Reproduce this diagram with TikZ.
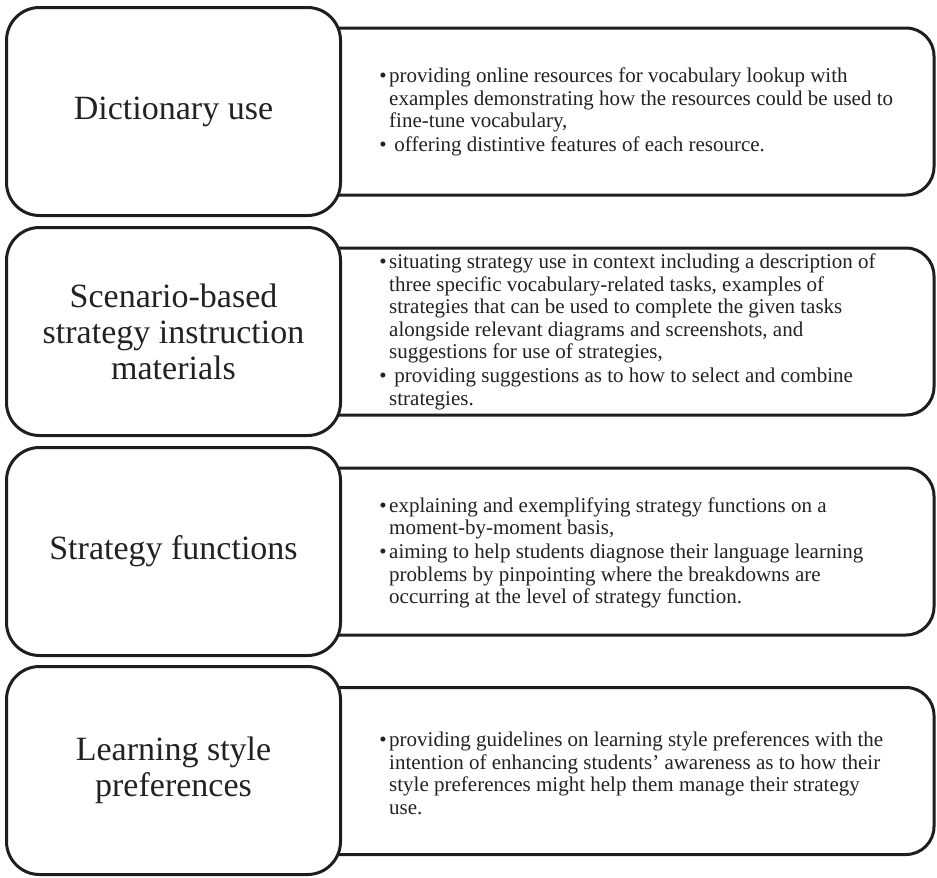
\documentclass[tikz,border=0pt]{standalone}
\usepackage{fontspec}
\setmainfont{Liberation Serif}
\definecolor{ink}{HTML}{1E1E1E}
\definecolor{txt}{HTML}{222222}
\newcommand{\itm}{\leavevmode\llap{\textbullet\hspace{2.5pt}}}
\begin{document}
\begin{tikzpicture}[x=1pt,y=-1pt,
  lbox/.style={draw=ink, line width=3pt, fill=white, rounded corners=33pt,
    minimum width=334pt, minimum height=208pt, inner sep=0pt, text=txt,
    align=center, font=\fontsize{34}{36}\selectfont},
  rbox/.style={draw=ink, line width=3pt, fill=white, rounded corners=28pt,
    minimum width=634pt, minimum height=167pt, inner sep=0pt},
  body/.style={anchor=west, inner sep=0pt, align=left, text=txt,
    font=\fontsize{21}{22.5}\selectfont}]
\useasboundingbox (0,0) rectangle (937,878);

% row 1
\node[rbox] (r1) at (617,111.5) {};
\node[lbox] (l1) at (173.5,111.5) {Dictionary use};
\node[body] (t1) at (389,112) {\itm providing online resources for vocabulary lookup with\\
examples demonstrating how the resources could be used to\\
fine-tune vocabulary,\\[1.5pt]
\itm\ offering distintive features of each resource.};

% row 2
\node[rbox] (r2) at (617,331.5) {};
\node[lbox] (l2) at (173.5,331.5) {Scenario-based\\strategy instruction\\materials};
\node[body] (t2) at (389,332) {\itm situating strategy use in context including a description of\\
three specific vocabulary-related tasks, examples of\\
strategies that can be used to complete the given tasks\\
alongside relevant diagrams and screenshots, and\\
suggestions for use of strategies,\\[1.5pt]
\itm\ providing suggestions as to how to select and combine\\
strategies.};

% row 3
\node[rbox] (r3) at (617,551.5) {};
\node[lbox] (l3) at (173.5,551.5) {Strategy functions};
\node[body] (t3) at (389,553) {\itm explaining and exemplifying strategy functions on a\\
moment-by-moment basis,\\[1.5pt]
\itm aiming to help students diagnose their language learning\\
problems by pinpointing where the breakdowns are\\
occurring at the level of strategy function.};

% row 4
\node[rbox] (r4) at (617,771) {};
\node[lbox] (l4) at (173.5,770.5) {Learning style\\preferences};
\node[body] (t4) at (389,773) {\itm providing guidelines on learning style preferences with the\\
intention of enhancing students’ awareness as to how their\\
style preferences might help them manage their strategy\\
use.};
\end{tikzpicture}
\end{document}
